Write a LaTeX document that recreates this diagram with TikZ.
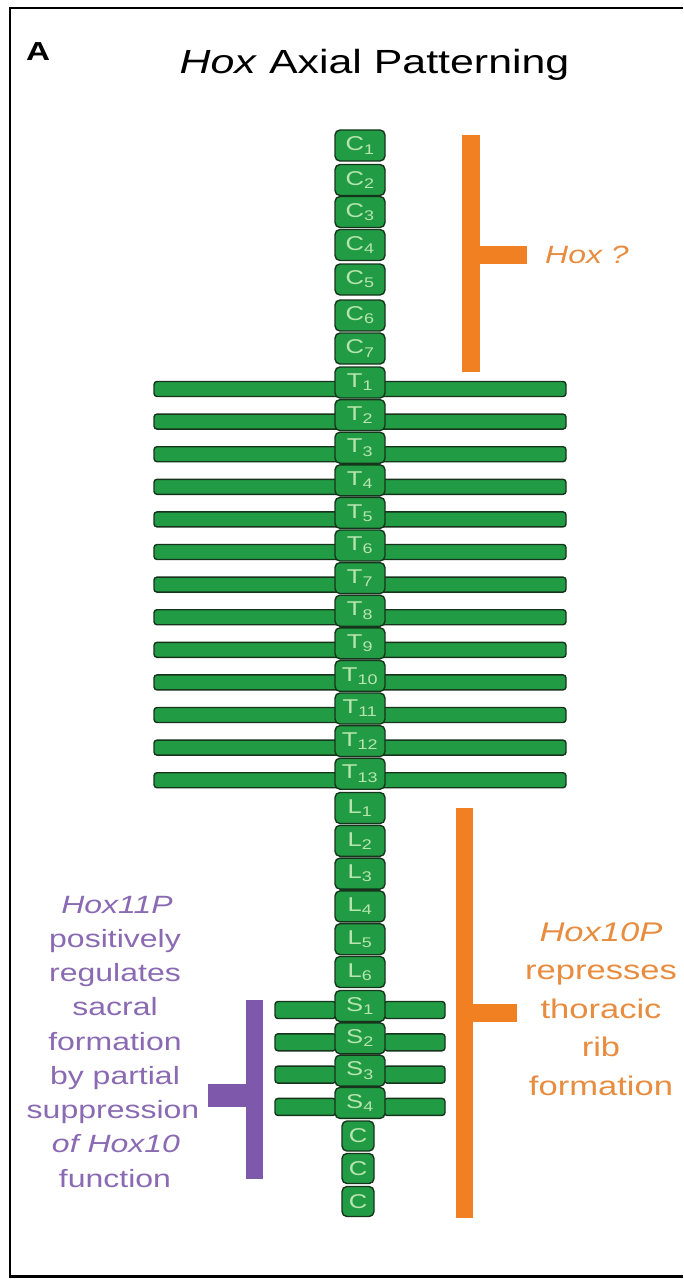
\documentclass[tikz,border=0pt]{standalone}
\usepackage{fontspec}
\setmainfont{Liberation Sans}[FakeStretch=1.28]
\definecolor{bone}{RGB}{34,156,68}
\definecolor{boneline}{RGB}{22,52,28}
\definecolor{bonetext}{RGB}{184,228,176}
\definecolor{hoxorange}{RGB}{240,128,34}
\definecolor{hoxorangetext}{RGB}{232,140,64}
\definecolor{hoxpurple}{RGB}{126,88,170}
\definecolor{hoxpurpletext}{RGB}{138,106,178}
\tikzset{
  vert/.style={draw=boneline, fill=bone, line width=1.4pt, rounded corners=5pt,
    minimum width=50pt, minimum height=31pt, inner sep=0pt, text=bonetext,
    font=\fontsize{20}{20}\selectfont},
  smallvert/.style={vert, minimum width=32pt, minimum height=30pt},
  rib/.style={draw=boneline, fill=bone, line width=1.4pt, rounded corners=3pt,
    inner sep=0pt, minimum height=15pt},
  sacrib/.style={rib, minimum height=17pt, minimum width=61pt},
  thorrib/.style={rib, minimum width=186pt},
  orangetxt/.style={anchor=base, text=hoxorangetext, inner sep=0pt,
    font=\fontsize{27}{27}\selectfont},
  purpletxt/.style={anchor=base, text=hoxpurpletext, inner sep=0pt,
    font=\fontsize{25}{25}\selectfont},
  orangebar/.style={fill=hoxorange},
  purplebar/.style={fill=hoxpurple}
}
\begin{document}
\begin{tikzpicture}[x=1pt,y=-1pt]
\useasboundingbox (0,0) rectangle (683,1279);
\fill[white] (0,0) rectangle (683,1279);
% frame
\draw[line width=2.5pt] (683,8) -- (10,8) -- (10,1276.5) -- (683,1276.5);
% titles
\node[anchor=base west, inner sep=0pt, font=\fontsize{26}{26}\selectfont\bfseries] (panel) at (26,61) {A};
\node[anchor=base, inner sep=0pt, font=\fontsize{33.5}{40}\selectfont] (title) at (374.5,74) {\textit{Hox} Axial Patterning};
% cervical
\foreach \i/\cy in {1/145.5,2/180,3/212,4/245,5/279.5,6/315.5,7/348.5}
  \node[vert] (C\i) at (360,\cy) {C\textsubscript{\i}};
% thoracic ribs and vertebrae
\foreach \i in {1,...,13}{
  \pgfmathsetmacro{\cy}{382.5+32.6*(\i-1)}
  \node[thorrib] (RL\i) at (247,\cy+6.5) {};
  \node[thorrib] (RR\i) at (473,\cy+6.5) {};
  \node[vert] (T\i) at (360,\cy) {T\textsubscript{\i}};
}
% lumbar
\foreach \i in {1,...,6}{
  \pgfmathsetmacro{\cy}{808+32.8*(\i-1)}
  \node[vert] (L\i) at (360,\cy) {L\textsubscript{\i}};
}
% sacral
\foreach \i in {1,...,4}{
  \pgfmathsetmacro{\cy}{1006+32.3*(\i-1)}
  \node[sacrib] (SL\i) at (305.5,\cy+4) {};
  \node[sacrib] (SR\i) at (414.5,\cy+4) {};
  \node[vert] (S\i) at (360,\cy) {S\textsubscript{\i}};
}
% coccygeal
\foreach \i/\cy in {1/1136,2/1168.5,3/1201.5}
  \node[smallvert] (Co\i) at (358,\cy) {C};
% orange bracket top
\fill[orangebar] (462,135) rectangle (480,372);
\fill[orangebar] (479,246) rectangle (527,264);
\node[anchor=base west, inner sep=0pt, text=hoxorangetext, font=\fontsize{25}{25}\selectfont\itshape] (hoxq) at (545,263) {Hox ?};
% orange bracket bottom
\fill[orangebar] (456,808) rectangle (473,1218);
\fill[orangebar] (472,1004) rectangle (517,1022);
\node[orangetxt] (o1) at (601,941) {\itshape Hox10P};
\node[orangetxt] (o2) at (601,979.5) {represses};
\node[orangetxt] (o3) at (601,1018) {thoracic};
\node[orangetxt] (o4) at (601,1056.5) {rib};
\node[orangetxt] (o5) at (601,1095) {formation};
% purple bracket
\fill[purplebar] (246,1000) rectangle (263,1179);
\fill[purplebar] (208,1084) rectangle (247,1107);
\node[purpletxt] (p1) at (117,913) {\itshape Hox11P};
\node[purpletxt] (p2) at (115,947.25) {positively};
\node[purpletxt] (p3) at (115,981.5) {regulates};
\node[purpletxt] (p4) at (115,1015.75) {sacral};
\node[purpletxt] (p5) at (115,1050) {formation};
\node[purpletxt] (p6) at (115,1084.25) {by partial};
\node[purpletxt] (p7) at (113,1118.5) {suppression};
\node[purpletxt] (p8) at (116,1152.75) {\itshape of Hox10};
\node[purpletxt] (p9) at (115,1187) {function};
\end{tikzpicture}
\end{document}
